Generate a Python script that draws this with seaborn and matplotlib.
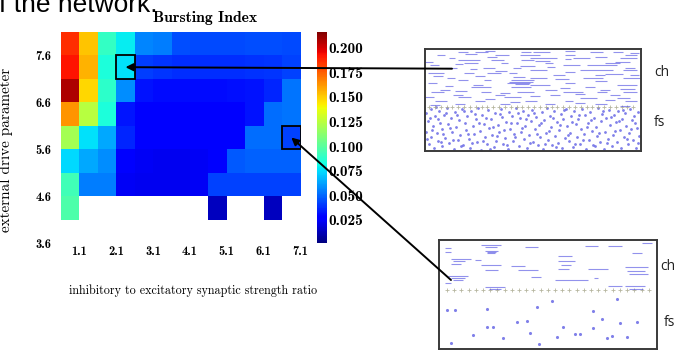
import numpy as np
import pandas as pd
import seaborn as sns
import matplotlib
matplotlib.use("Agg")
import matplotlib.pyplot as plt
from matplotlib.patches import Rectangle, ConnectionPatch

# ---------------- data ----------------
ratio_labels = ["1.1", "2.1", "3.1", "4.1", "5.1", "6.1", "7.1"]
drive_labels = ["7.6", "6.6", "5.6", "4.6", "3.6"]
nan = np.nan
# bursting index, rows from drive 8.1 (top) down to 3.6, columns from ratio 0.6 upward
bursting_index = [
    [0.186, 0.152, 0.090, 0.078, 0.056, 0.055, 0.045, 0.044, 0.044, 0.044, 0.045, 0.045, 0.044],
    [0.192, 0.156, 0.084, 0.076, 0.041, 0.040, 0.038, 0.038, 0.038, 0.038, 0.039, 0.040, 0.042],
    [0.207, 0.148, 0.088, 0.058, 0.032, 0.030, 0.030, 0.030, 0.030, 0.031, 0.032, 0.036, 0.053],
    [0.163, 0.124, 0.084, 0.033, 0.028, 0.027, 0.027, 0.027, 0.027, 0.028, 0.032, 0.051, 0.053],
    [0.119, 0.076, 0.064, 0.036, 0.026, 0.025, 0.025, 0.025, 0.026, 0.027, 0.051, 0.051, 0.042],
    [0.074, 0.064, 0.058, 0.027, 0.024, 0.023, 0.023, 0.024, 0.025, 0.047, 0.049, 0.049, 0.049],
    [0.093, 0.055, 0.055, 0.024, 0.023, 0.023, 0.023, 0.024, 0.042, 0.042, 0.042, 0.042, 0.042],
    [0.097, nan, nan, nan, nan, nan, nan, nan, 0.014, nan, nan, 0.014, nan],
    [nan, nan, nan, nan, nan, nan, nan, nan, nan, nan, nan, nan, nan],
]
cbar_ticks = [0.025, 0.050, 0.075, 0.100, 0.125, 0.150, 0.175, 0.200]
# (column, row) of the two example simulations shown as rasters
highlight_cells = [(3, 1), (12, 4)]

# top raster: chattering bursts (neuron, t_start, t_end) and fast-spiking spikes (t, neuron)
ch_top = [
    (2, 60, 70), (2, 140, 150), (3, 33, 43), (3, 50, 63), (3, 96, 106), (3, 108, 125),
    (3, 165, 178), (3, 188, 198), (4, 205, 214), (5, 40, 52),
    (6, 12, 20), (6, 70, 84), (6, 95, 115), (6, 140, 150), (6, 200, 212),
    (8, 62, 72), (8, 170, 182), (9, 105, 132), (9, 148, 165), (9, 195, 212), (9, 24, 30),
    (10, 140, 146), (11, 33, 55), (11, 66, 79), (11, 96, 109), (12, 110, 125),
    (13, 0, 8), (13, 190, 205), (14, 39, 53), (14, 76, 83), (14, 120, 128), (14, 180, 195),
    (15, 30, 38), (16, 138, 155), (16, 162, 192), (16, 5, 14), (17, 95, 110), (18, 122, 130),
    (19, 20, 32), (19, 58, 70), (19, 88, 96), (19, 200, 210), (20, 45, 52),
    (21, 105, 122), (21, 155, 188), (21, 198, 212), (22, 70, 82), (23, 140, 150),
    (24, 3, 19), (24, 39, 49), (24, 62, 76), (24, 84, 92), (25, 180, 198),
    (26, 128, 140), (26, 170, 180), (26, 205, 214), (27, 8, 18), (27, 50, 60), (28, 88, 100),
    (29, 105, 122), (29, 158, 178), (29, 198, 215), (29, 22, 30), (30, 130, 144),
    (31, 33, 43), (31, 59, 66), (31, 86, 109), (32, 170, 182), (33, 84, 108),
    (34, 82, 105), (34, 140, 150), (34, 3, 12), (35, 90, 104),
    (36, 105, 125), (36, 192, 212), (36, 48, 58), (37, 20, 28),
    (38, 46, 66), (38, 86, 106), (38, 160, 170), (39, 135, 145), (40, 195, 210),
    (41, 15, 25), (41, 120, 132), (41, 175, 185), (42, 30, 42),
    (43, 6, 19), (43, 56, 66), (43, 92, 109), (43, 138, 158), (43, 172, 182), (43, 198, 212),
    (44, 75, 85), (45, 150, 160), (46, 28, 38), (46, 70, 80), (46, 125, 135), (46, 185, 195),
    (47, 105, 115), (48, 0, 9), (48, 33, 46), (48, 79, 96), (49, 155, 172), (49, 192, 205),
    (50, 60, 70), (51, 180, 190), (52, 10, 22), (52, 50, 60), (52, 100, 112), (52, 140, 148),
    (52, 200, 212), (53, 85, 95), (54, 150, 160), (55, 30, 40), (55, 75, 85), (55, 120, 130),
    (55, 170, 182), (56, 5, 15), (57, 195, 205),
]
fs_top = [
    (1, 64), (1, 83), (3, 72), (4, 95), (6, 60), (6, 88), (8, 77), (9, 99), (10, 67), (12, 84),
    (13, 92), (14, 62), (15, 74), (17, 80), (17, 97), (19, 66), (20, 89), (22, 59), (23, 75),
    (24, 94), (26, 69), (27, 83), (29, 100), (30, 63), (31, 78), (33, 91), (34, 71), (35, 86),
    (37, 60), (38, 96), (40, 74), (41, 81), (42, 67), (44, 90), (45, 99), (46, 62), (48, 77),
    (49, 85), (51, 70), (52, 93), (53, 59), (55, 82), (56, 101), (57, 66), (59, 75), (60, 88),
    (62, 95), (63, 61), (64, 79), (66, 70), (67, 86), (69, 98), (70, 64), (71, 92), (73, 76),
    (74, 83), (76, 60), (77, 68), (78, 95), (80, 89), (81, 73), (83, 100), (84, 63), (85, 80),
    (87, 67), (88, 92), (89, 85), (91, 59), (92, 74), (94, 97), (95, 69), (96, 83), (98, 62),
    (99, 90), (100, 77), (102, 99), (103, 66), (104, 86), (106, 72), (107, 61), (108, 93),
    (110, 80), (111, 68), (113, 96), (114, 76), (115, 88), (117, 63), (118, 100), (119, 71),
    (121, 84), (122, 59), (123, 91), (125, 67), (126, 78), (127, 96), (129, 62), (130, 87),
    (132, 73), (133, 94), (134, 81), (136, 65), (137, 99), (138, 70), (140, 89), (141, 60),
    (142, 77), (144, 92), (145, 84), (146, 67), (148, 98), (149, 62), (151, 75), (152, 88),
    (153, 70), (155, 95), (156, 80), (157, 60), (159, 85), (160, 66), (161, 100), (163, 74),
    (164, 91), (165, 63), (167, 82), (168, 96), (169, 69), (171, 78), (172, 87), (173, 59),
    (175, 93), (176, 72), (177, 65), (179, 100), (180, 83), (181, 69), (183, 90), (184, 61),
    (185, 76), (187, 97), (188, 86), (189, 66), (191, 73), (192, 93), (193, 62), (195, 81),
    (196, 99), (197, 70), (199, 88), (200, 64), (201, 77), (203, 95), (204, 84), (205, 60),
    (207, 71), (208, 91), (209, 67), (211, 99), (212, 79), (213, 63), (214, 87),
    (2, 90), (5, 69), (7, 81), (11, 58), (13, 70), (16, 93), (18, 85), (21, 64), (25, 79),
    (28, 91), (32, 66), (36, 97), (39, 62), (43, 85), (47, 94), (50, 65), (54, 74), (58, 92),
    (61, 69), (65, 100), (68, 78), (72, 87), (75, 65), (79, 81), (82, 96), (86, 74), (90, 88),
    (93, 64), (97, 79), (101, 70), (105, 94), (109, 64), (112, 85), (116, 74), (120, 95),
    (124, 82), (128, 69), (131, 98), (135, 76), (139, 61), (143, 86), (147, 73), (150, 95),
    (154, 66), (158, 91), (162, 78), (166, 71), (170, 97), (174, 84), (178, 62), (182, 94),
    (186, 68), (190, 82), (194, 72), (198, 61), (202, 90), (206, 80), (210, 74), (213, 94),
]
sep_top = [4, 10, 16, 22, 27, 33, 39, 45, 51, 57, 62, 68, 74, 80, 86, 92, 97, 103, 109, 115,
           121, 127, 132, 138, 144, 150, 156, 162, 167, 173, 179, 185, 191, 197, 202, 208]

# bottom raster
ch_bot = [
    (8, 6, 12), (5, 42, 62), (7, 46, 58), (7, 86, 99),
    (11, 46, 59), (12, 48, 57), (12, 6, 12), (13, 48, 56),
    (19, 12, 32), (21, 14, 26), (20, 36, 42),
    (24, 12, 22), (25, 42, 62), (26, 72, 86),
    (30, 46, 59), (30, 79, 99),
    (36, 9, 29), (38, 12, 26), (40, 14, 24), (37, 92, 102),
    (43, 6, 12), (47, 46, 66), (49, 50, 62),
    (6, 146, 159), (6, 169, 183), (3, 203, 213),
    (16, 119, 133), (13, 193, 203),
    (21, 119, 136), (25, 122, 132), (29, 119, 130), (29, 149, 169),
    (27, 186, 209), (31, 188, 206), (34, 190, 209),
    (40, 116, 149), (38, 155, 159),
    (46, 169, 183), (46, 186, 206), (49, 190, 204),
]
fs_bot = [
    (8, 70), (16, 70), (48, 69), (98, 67), (154, 71), (178, 59), (48, 87), (54, 87), (78, 82),
    (88, 81), (124, 87), (154, 88), (163, 79), (181, 83), (198, 82), (34, 95), (64, 98), (91, 93),
    (118, 97), (141, 94), (168, 98), (188, 97), (113, 61), (136, 94), (173, 96), (12, 103), (100, 104),
]
sep_bot = [8, 15, 22, 30, 37, 44, 51, 58, 66, 73, 80, 87, 94, 102, 109, 116, 123, 130, 138,
           145, 152, 159, 166, 174, 181, 188, 195, 203, 210]

# ---------------- figure ----------------
W, H = 680, 350
fig = plt.figure(figsize=(W / 100, H / 100), dpi=100)
fig.patch.set_facecolor("white")


def box(x0, y0, x1, y1):
    return [x0 / W, 1 - y1 / H, (x1 - x0) / W, (y1 - y0) / H]


ax = fig.add_axes(box(61, 32, 300.5, 243))
cax = fig.add_axes(box(317, 32, 326.5, 243))
ax_top = fig.add_axes(box(425, 49, 641, 151))
ax_bot = fig.add_axes(box(439, 240, 657, 349))

bold = "cmb10"
roman = "cmr10"

sns.heatmap(pd.DataFrame(bursting_index), ax=ax, cmap="jet", vmin=0.0015, vmax=0.216,
            cbar_ax=cax, xticklabels=False, yticklabels=False)

# tick labels sit on cell edges: ratio grid starts at 0.6, drive grid at 8.1, step 0.5
ax.set_xticks([(float(v) - 0.6) / 0.5 for v in ratio_labels])
ax.set_xticklabels(ratio_labels, fontfamily=bold, fontsize=9)
ax.set_yticks([(8.1 - float(v)) / 0.5 for v in drive_labels])
ax.set_yticklabels(drive_labels, fontfamily=bold, fontsize=9, rotation=0)
ax.tick_params(axis="x", length=0, pad=2)
ax.tick_params(axis="y", length=0, pad=7)
ax.set_xlabel("inhibitory to excitatory synaptic strength ratio", fontfamily=roman,
              fontsize=8.7)
ax.xaxis.set_label_coords(0.551, -0.198)
ax.set_ylabel("external drive parameter", fontfamily=roman, fontsize=10.9)
ax.yaxis.set_label_coords(-0.2, 0.44)

for c, r in highlight_cells:
    ax.add_patch(Rectangle((c, r), 1, 1, fill=False, ec="black", lw=1.3, zorder=5))

cbar = ax.collections[0].colorbar
cbar.set_ticks(cbar_ticks)
cbar.set_ticklabels([f"{v:.3f}" for v in cbar_ticks])
cax.tick_params(length=0, pad=1)
for lab in cax.get_yticklabels():
    lab.set_fontfamily(bold)
    lab.set_fontsize(11)

fig.text(205 / W, 1 - 22 / H, "Bursting Index", fontfamily=bold, fontsize=11.3,
         ha="center", va="baseline")
fig.text(-1 / W, 1 - 12 / H, "f the network.", fontfamily="Liberation Sans", fontsize=19,
         ha="left", va="baseline")

# ---------------- rasters ----------------
spike_col = "#4a4ae0"
sep_col = "#a4a488"


def raster(axr, ch, fs, sep, sep_n, width, height, dot):
    axr.set_xlim(0, width)
    axr.set_ylim(height, 0)
    axr.set_xticks([])
    axr.set_yticks([])
    for s in axr.spines.values():
        s.set_color("#3a3a3a")
        s.set_linewidth(1.4)
    axr.set_facecolor("none")
    for n, t0, t1 in ch:
        axr.hlines(n, t0, t1, color=spike_col, lw=0.8, alpha=0.6)
    sns.scatterplot(x=[p[0] for p in fs], y=[p[1] for p in fs], ax=axr, s=dot,
                    color=spike_col, linewidth=0, alpha=0.7, legend=False)
    sns.scatterplot(x=sep, y=[sep_n] * len(sep), ax=axr, s=7, marker="+",
                    color=sep_col, linewidth=0.6, alpha=0.8, legend=False)
    axr.set_xlabel("")
    axr.set_ylabel("")


raster(ax_top, ch_top, fs_top, sep_top, 58, 216, 102, 4)
raster(ax_bot, ch_bot, fs_bot, sep_bot, 50, 218, 109, 5)

lab_kw = dict(fontfamily="Open Sans", fontsize=10, ha="center", va="center", color="#222222")
fig.text(662 / W, 1 - 72 / H, "ch", **lab_kw)
fig.text(660 / W, 1 - 122 / H, "fs", **lab_kw)
fig.text(668 / W, 1 - 266 / H, "ch", **lab_kw)
fig.text(670 / W, 1 - 322 / H, "fs", **lab_kw)

# arrows from each raster to its cell in the map
starts = [(ax_top, (0.125, 0.807)), (ax_bot, (0.055, 0.633))]
for (c, r), (axr, xy) in zip(highlight_cells, starts):
    con = ConnectionPatch(xyA=xy, coordsA=axr.transAxes, xyB=(c + 0.5, r + 0.5),
                          coordsB=ax.transData, arrowstyle="-|>", color="black",
                          lw=1.4, mutation_scale=11, shrinkA=0, shrinkB=0)
    con.set_zorder(10)
    fig.add_artist(con)

fig.savefig("out.png", dpi=100)
